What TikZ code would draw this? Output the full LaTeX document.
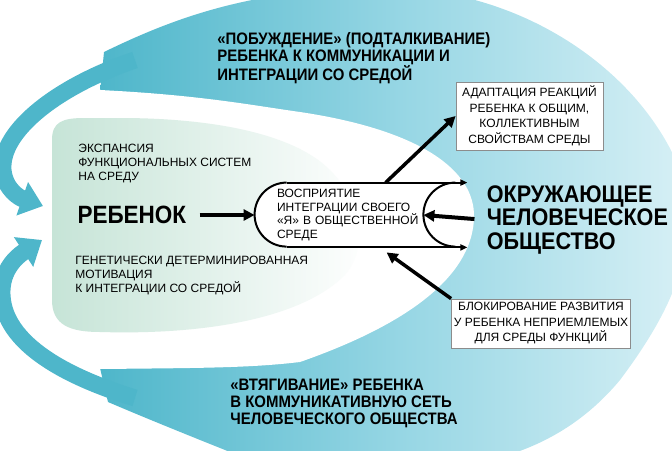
\documentclass[tikz,border=0pt]{standalone}
\usepackage{fontspec}
\setmainfont{Liberation Sans}
\newfontfamily\headfont{Liberation Sans}[FakeStretch=0.9]
\usetikzlibrary{shapes, arrows.meta, positioning}

\definecolor{tealdark}{RGB}{78,182,202}
\definecolor{tealmid}{RGB}{150,214,228}
\definecolor{teallight}{RGB}{218,241,246}
\definecolor{childgreen}{RGB}{198,228,215}
\definecolor{boxgray}{RGB}{140,140,140}

\pgfdeclarelayer{background}
\pgfsetlayers{background,main}

\begin{document}
\begin{tikzpicture}[x=1pt, y=1pt, node distance=20pt, thick]
        \useasboundingbox (0,0) rectangle (672,-450);

        % Define block styles
        \tikzstyle{headtext} = [inner sep=0pt, align=left, font=\headfont\bfseries\fontsize{16.6}{17}\selectfont]
        \tikzstyle{bigtext} = [inner sep=0pt, align=left, font=\headfont\bfseries\fontsize{24}{23.5}\selectfont]
        \tikzstyle{smalltext} = [inner sep=0pt, align=left, font=\fontsize{12}{14}\selectfont]
        \tikzstyle{notebox} = [rectangle, draw=boxgray, fill=white, line width=0.8pt, inner sep=2pt, align=center, font=\fontsize{12}{15.5}\selectfont]
        \tikzstyle{perceptbox} = [rectangle, minimum width=212pt, minimum height=64pt, inner xsep=22pt, text width=168pt, align=left, font=\fontsize{12}{13.5}\selectfont]
        \tikzstyle{line} = [draw, line width=4pt, -{Triangle[length=11pt, width=11pt]}]
        \tikzstyle{thinline} = [draw, line width=2pt, -{Triangle[length=7pt, width=6pt]}]
        \tikzstyle{flow} = [draw=tealdark, line width=17pt, -{Triangle[length=22pt, width=34pt]}]

        % Define nodes
        \node [perceptbox] (percept) at (361,-215) {ВОСПРИЯТИЕ\\ ИНТЕГРАЦИИ СВОЕГО\\ «Я» В ОБЩЕСТВЕННОЙ\\ СРЕДЕ};
        \node [bigtext, font=\headfont\bfseries\fontsize{25}{25}\selectfont, left=68pt of percept] (child) {РЕБЕНОК};
        \node [bigtext, right=19pt of percept, yshift=-5pt] (society) {ОКРУЖАЮЩЕЕ\\ ЧЕЛОВЕЧЕСКОЕ\\ ОБЩЕСТВО};
        \node [headtext, anchor=west] (urge) at (217,-58) {«ПОБУЖДЕНИЕ» (ПОДТАЛКИВАНИЕ)\\ РЕБЕНКА К КОММУНИКАЦИИ И\\ ИНТЕГРАЦИИ СО СРЕДОЙ};
        \node [headtext, anchor=west] (pull) at (230,-403) {«ВТЯГИВАНИЕ» РЕБЕНКА\\ В КОММУНИКАТИВНУЮ СЕТЬ\\ ЧЕЛОВЕЧЕСКОГО ОБЩЕСТВА};
        \node [smalltext, anchor=west] (expand) at (78,-164) {ЭКСПАНСИЯ\\ ФУНКЦИОНАЛЬНЫХ СИСТЕМ\\ НА СРЕДУ};
        \node [smalltext, anchor=west] (motive) at (75,-276) {ГЕНЕТИЧЕСКИ ДЕТЕРМИНИРОВАННАЯ\\ МОТИВАЦИЯ\\ К ИНТЕГРАЦИИ СО СРЕДОЙ};
        \node [notebox, minimum width=147pt, minimum height=68pt] (adapt) at (529.5,-116) {АДАПТАЦИЯ РЕАКЦИЙ\\ РЕБЕНКА К ОБЩИМ,\\ КОЛЛЕКТИВНЫМ\\ СВОЙСТВАМ СРЕДЫ};
        \node [notebox, minimum width=179pt, minimum height=49pt] (block) at (541,-323.5) {БЛОКИРОВАНИЕ РАЗВИТИЯ\\ У РЕБЕНКА НЕПРИЕМЛЕМЫХ\\ ДЛЯ СРЕДЫ ФУНКЦИЙ};

        % Background fields
        \begin{pgfonlayer}{background}
        \begin{scope}
            \clip (0,0) rectangle (672,-450);
            \shade [left color=tealdark, right color=teallight, middle color=tealmid] (100,-92) -- (104,-52) .. controls (170,-20) and (250,12) .. (380,12) .. controls (520,14) and (640,-70) .. (680,-170) .. controls (700,-240) and (680,-300) .. (620,-380) .. controls (570,-440) and (500,-470) .. (400,-470) -- (250,-460) .. controls (200,-440) and (150,-420) .. (108,-402) -- (100,-368) -- cycle;
            \fill [white] (60,-90) -- (100,-90) .. controls (200,-95) and (250,-105) .. (300,-112) .. controls (420,-130) and (475,-170) .. (474,-217) .. controls (473,-270) and (420,-320) .. (300,-362) .. controls (250,-368) and (200,-368) .. (100,-369) -- (60,-369) -- cycle;
            \draw [flow] (135,-60) .. controls (60,-85) and (0,-130) .. (3,-170) .. controls (5,-190) and (20,-198) .. (43,-206);
            \draw [flow] (135,-398) .. controls (60,-375) and (0,-340) .. (2,-290) .. controls (3,-265) and (22,-253) .. (42,-240);
            \shade [left color=childgreen, right color=white] (52,-140) .. controls (52,-122) and (62,-118) .. (85,-118) -- (120,-118) .. controls (200,-118) and (290,-130) .. (330,-170) .. controls (360,-200) and (370,-245) .. (345,-275) .. controls (300,-320) and (200,-335) .. (100,-332) .. controls (70,-332) and (52,-325) .. (52,-300) -- cycle;
            \fill [white] ([xshift=32pt]percept.north west) arc[start angle=90, end angle=270, radius=32] -- ([xshift=-12pt]percept.south east) arc[start angle=270, end angle=90, radius=32] -- cycle;
        \end{scope}
        \end{pgfonlayer}

        % Outline of the perception box
        \draw [line width=2pt] ([xshift=32pt]percept.north west) arc[start angle=90, end angle=270, radius=32];
        \draw [line width=2pt] ([xshift=-12pt]percept.north east) arc[start angle=90, end angle=270, radius=32];
        \draw [thinline] ([xshift=32pt]percept.north west) -- (percept.north east);
        \draw [thinline] ([xshift=32pt]percept.south west) -- (percept.south east);

        % Connect nodes with paths
        \draw [line, shorten <=13pt] (child.east) -- (percept.west);
        \draw [line, shorten <=12pt] (society.west) -- ([xshift=-44pt]percept.east);
        \draw [line, line width=3.5pt] ([xshift=131pt]percept.north west) -- (adapt.west);
        \draw [line, line width=3.5pt] (block.north west) -- ([xshift=132pt, yshift=-5pt]percept.south west);

    \end{tikzpicture}
\end{document}
